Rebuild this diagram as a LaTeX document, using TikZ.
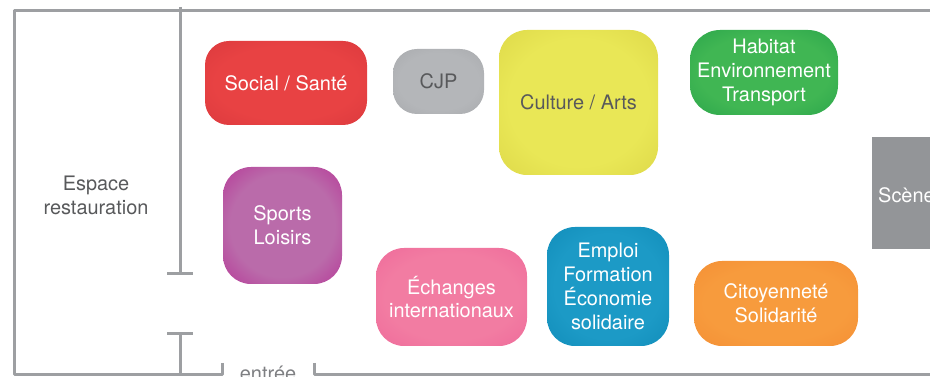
\documentclass[tikz,border=0pt]{standalone}
\usepackage{fontspec}
\setmainfont{TeX Gyre Heros}
\definecolor{wall}{HTML}{9D9FA2}
\definecolor{inktext}{HTML}{58595B}
\definecolor{scenegray}{HTML}{939598}
\colorlet{glowin}{white}
\colorlet{glowout}{black}
\pgfdeclareradialshading[glowin,glowout]{boxglow}{\pgfpoint{0bp}{0bp}}{%
  color(0bp)=(glowin); color(22bp)=(glowin); color(46bp)=(glowout); color(75bp)=(glowout)}
\tikzset{
  glowcols/.code 2 args={\definecolor{glowin}{HTML}{#1}\definecolor{glowout}{HTML}{#2}},
  stand/.style 2 args={glowcols={#1}{#2},shading=boxglow,rounded corners=24bp,inner sep=0pt,align=center,text=white},
  basefont/.style={font=\fontsize{20}{24}\selectfont},
}
\begin{document}
\begin{tikzpicture}[line join=bevel,basefont,]
\useasboundingbox (0bp,0bp) rectangle (930bp,377bp);
%%
\draw [wall,line width=3bp] (222bp,14bp) -- (222bp,2bp) -- (14bp,2bp) -- (14bp,366bp) -- (935bp,366bp);
\draw [wall,line width=3bp] (314bp,14bp) -- (314bp,2bp) -- (935bp,2bp);
\draw [wall,line width=3bp] (180bp,370bp) -- (180bp,103bp);
\draw [wall,line width=3bp] (167bp,103bp) -- (193bp,103bp);
\draw [wall,line width=3bp] (167bp,43bp) -- (193bp,43bp);
\draw [wall,line width=3bp] (180bp,43bp) -- (180bp,2bp);
%
\node (node_10) at (96bp,182bp) [align=center,text=inktext] {Espace\\restauration};
\node (node_11) at (268bp,-3bp) [anchor=base,text=wall!80!black] {entrée};
\fill [scenegray] (872bp,128bp) rectangle (935bp,240bp);
\node (node_12) at (878bp,182bp) [anchor=west,inner sep=0pt,text=white] {Scène};
%
\node (node_0) at (286bp,294bp) [stand={E84243}{D3343A},minimum width=162bp,minimum height=84bp] {Social / Santé};
\node (node_1) at (438.5bp,295.5bp) [stand={B4B6B9}{9FA1A4},text=inktext,minimum width=91bp,minimum height=65bp] {CJP};
\node (node_2) at (578.5bp,274.5bp) [stand={E9E756}{D6CF40},text=inktext,minimum width=159bp,minimum height=145bp,rounded corners=28bp] {Culture / Arts};
\node (node_3) at (764bp,304.5bp) [stand={40B653}{1C9A45},minimum width=148bp,minimum height=85bp,rounded corners=30bp] {Habitat\\Environnement\\Transport};
\node (node_4) at (282.5bp,151.5bp) [stand={BA6BAA}{B3168B},minimum width=119bp,minimum height=117bp,rounded corners=28bp] {Sports\\Loisirs};
\node (node_5) at (451.5bp,80bp) [stand={F27CA2}{EC5F95},minimum width=151bp,minimum height=98bp,rounded corners=28bp] {Échanges\\internationaux};
\node (node_6) at (608bp,90.5bp) [stand={1C9AC6}{0A84B1},minimum width=122bp,minimum height=119bp,rounded corners=28bp] {Emploi\\Formation\\Économie\\solidaire};
\node (node_7) at (776bp,73.5bp) [stand={F79B3D}{F2872F},minimum width=164bp,minimum height=85bp,rounded corners=28bp] {Citoyenneté\\Solidarité};
%
\end{tikzpicture}
\end{document}
